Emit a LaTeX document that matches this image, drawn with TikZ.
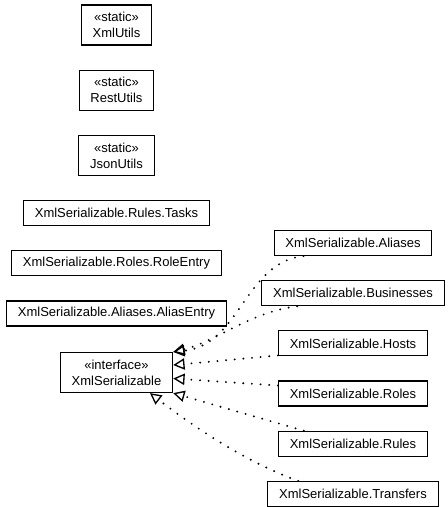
\documentclass[tikz,border=0pt]{standalone}
\usepackage{fontspec}
\setmainfont{Liberation Sans}
\usetikzlibrary{positioning, calc, arrows.meta}
\tikzset{class node/.style={draw,line width=0.9pt,inner xsep=8.5pt,inner ysep=0pt,minimum height=18.75pt,font=\fontsize{9.75}{12}\selectfont}}
\tikzset{stereo node/.style={class node,align=center,minimum height=30pt}}
\tikzset{realize/.style={draw,line width=1.6pt,line cap=round,dash pattern=on 0pt off 6.5pt,-{Triangle[open,length=8.5pt,width=8.5pt,line width=1pt]}}}

\begin{document}
\begin{tikzpicture}[x=0.75pt,y=0.75pt]
        \useasboundingbox (0,0) rectangle (447,507);

        % left column
        \node[stereo node] (xmlutils) at (116.5,482) {«static»\\XmlUtils};
        \node[stereo node] (restutils) [below = 18pt of xmlutils] {«static»\\RestUtils};
        \node[stereo node] (jsonutils) [below = 18pt of restutils] {«static»\\JsonUtils};
        \node[class node] (tasks) [below = 18pt of jsonutils] {XmlSerializable.Rules.Tasks};
        \node[class node] (roleentry) [below = 18pt of tasks] {XmlSerializable.Roles.RoleEntry};
        \node[class node] (aliasentry) [below = 18pt of roleentry] {XmlSerializable.Aliases.AliasEntry};
        \node[stereo node] (iface) [below = 19pt of aliasentry] {«interface»\\XmlSerializable};

        % right column
        \node[class node] (aliases) at (353,264) {XmlSerializable.Aliases};
        \node[class node] (businesses) [below = 18pt of aliases] {XmlSerializable.Businesses};
        \node[class node] (hosts) [below = 18pt of businesses] {XmlSerializable.Hosts};
        \node[class node] (roles) [below = 18pt of hosts] {XmlSerializable.Roles};
        \node[class node] (rules) [below = 18pt of roles] {XmlSerializable.Rules};
        \node[class node] (transfers) [below = 18pt of rules] {XmlSerializable.Transfers};

        \path[realize]
        ($(aliases.south west)+(30,0)$) .. controls (245,245) and (240,162) .. (iface.north east);
        \path[realize]
        ($(businesses.south west)+(36,0)$) .. controls (250,195) and (215,165) .. (iface.north east);
        \path[realize]
        ($(hosts.south west)+(0,1)$) -- ($(iface.east)+(0,7.5)$);
        \path[realize]
        ($(roles.north west)+(0,-5)$) -- ($(iface.east)+(0,-6)$);
        \path[realize]
        ($(rules.north west)+(26,0)$) -- (iface.south east);
        \path[realize]
        ($(transfers.north west)+(31,0)$) .. controls (240,47) and (185,87) .. ($(iface.south)+(33.5,0)$);
    \end{tikzpicture}
\end{document}
